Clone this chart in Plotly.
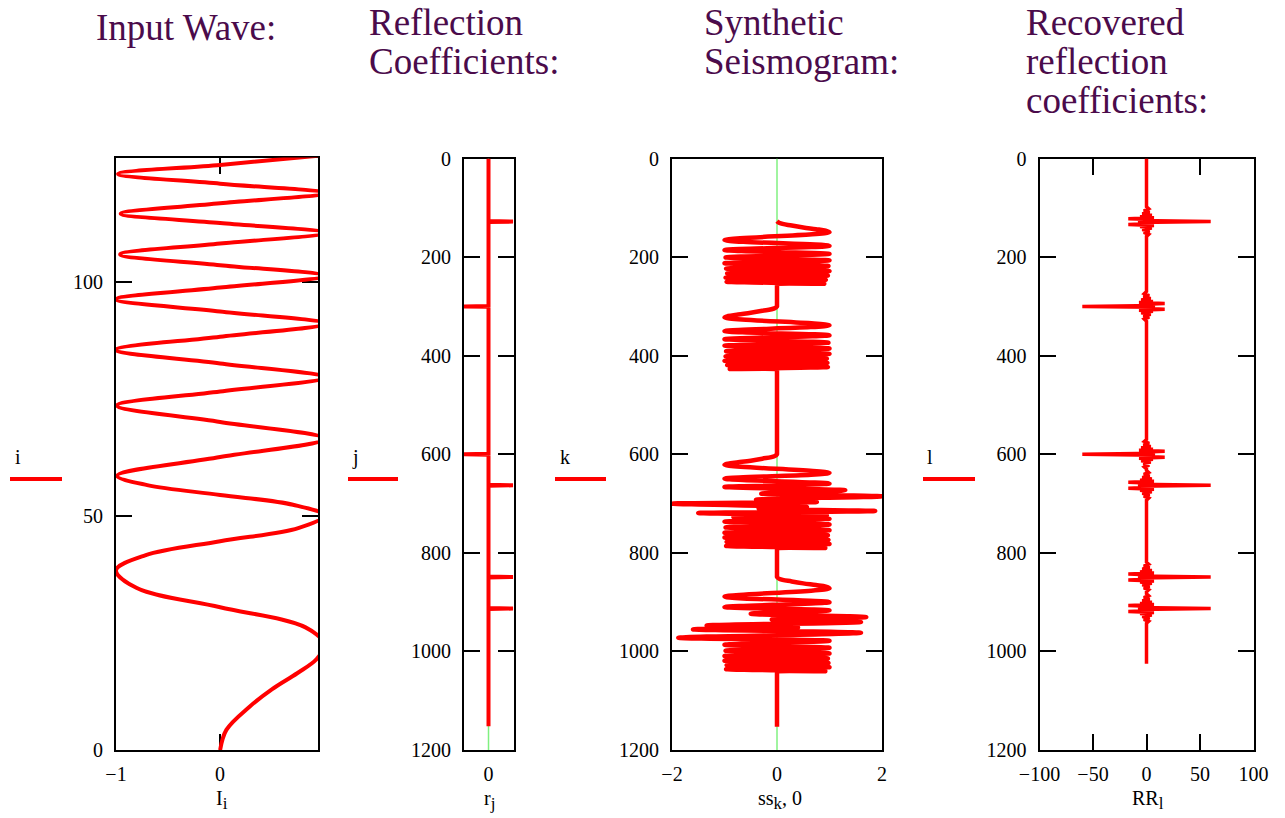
import plotly.graph_objects as go

W, H = 1285, 818

# ---------------- data ----------------
# Input wave I_i (turning points / crossings)
wave_i = [0, 4.3, 9.2, 13, 16.4, 19.5, 22.5, 26.2, 30.5, 34.6, 38.4, 41.6, 44.6, 47.4, 50.1,
          52.4, 54.5, 56.6, 58.6, 62.6, 66.5, 70.1, 73.6, 76.6, 79.6, 82.6, 85.5, 88.3, 91.1,
          93.7, 96.3, 98.8, 101.3, 103.6, 105.9, 108.2, 110.5, 112.6, 114.6, 116.8, 119.0,
          121.0, 123.1, 125.0, 127.0]
wave_I = [0, 0.06, 0.28, 0.5, 0.74, 0.93, 1.0, 0.82, 0.0, -0.8, -1.0, -0.72, 0.0, 0.75, 1.0,
          0.7, 0.0, -0.7, -0.99, 0.0, 1.0, 0.0, -0.99, 0.0, 1.0, 0.0, -1.0, 0.0, 1.0,
          0.0, -1.0, 0.0, 1.0, 0.0, -0.96, 0.0, 1.0, 0.0, -0.955, 0.0, 1.0,
          0.0, -0.98, 0.0, 0.95]

# Reflection coefficients r_j (spikes)
spike_depth = [128, 300, 600, 663, 849, 913]
spike_r = [0.1, -0.1, -0.1, 0.1, 0.1, 0.1]
r_last = 1152

# Synthetic seismogram ss_k (turning points)
ss_k = [127, 131, 136, 140, 143.4, 146.5, 149.5, 165.4, 177.1, 185.6, 193.5, 200.6, 206.6, 212.5,
        218.1, 223.3, 228.3, 232.9, 237.5, 241.6, 246, 250.1, 254, 255.5, 256.5, 299, 300,
        304, 309, 313, 316.4, 319.5, 322.5, 338.4, 350.1, 358.6, 366.5, 373.6, 379.6, 385.5,
        391.1, 396.3, 401.3, 405.9, 410.5, 414.6, 419, 423.1, 427, 428.5, 429.5, 599, 600,
        604, 609, 613, 616.4, 619, 621.5, 638, 649.4, 659.5, 666.3, 673.1, 679.9, 685.3, 692,
        696.8, 700.2, 707, 710.3, 715.1, 719.2, 723.9, 727.3, 731, 736.6, 742.6, 748.5, 754.1,
        759.3, 764.3, 768.9, 773.5, 777.6, 782, 786.1, 790, 791.5, 792.5, 848, 849,
        853, 858, 862, 865.4, 868.5, 872, 889, 900, 910, 916.8, 923.5, 930.3, 935, 940.4,
        947.2, 951.3, 955.3, 962.1, 972.3, 978.5, 986.6, 992.6, 998.5, 1004.1, 1009.3, 1014.3,
        1018.9, 1023.5, 1027.6, 1032, 1036.1, 1040, 1041.5, 1042.5, 1152, 1153]
ss_v = [0, 0.05, 0.28, 0.5, 0.74, 0.93, 1.0, -1.0, 1.0, -1.0, 1.0, -0.98, 1.0, -1.0,
        0.98, -0.97, 1.0, -0.95, 0.97, -0.98, 0.93, -0.96, 0.9, 0, 0, 0, 0,
        -0.05, -0.28, -0.5, -0.74, -0.93, -1.0, 1.0, -1.0, 1.0, -1.0, 0.98, -1.0, 1.0,
        -0.97, 1.0, -0.98, 0.95, -1.0, 0.96, -0.95, 0.97, -0.9, 0, 0, 0, 0,
        -0.05, -0.28, -0.5, -0.74, -0.93, -1.0, 1.0, -1.0, 1.0, -1.0, 1.3, -0.3, 2.0, -0.4,
        0.76, -2.0, 0.57, -0.35, 1.87, -1.5, 0.95, -0.83, 1.0, -1.0, 1.0, -0.98, 1.0,
        -1.0, 0.97, -1.0, 0.98, -0.96, 1.0, -0.97, 0.92, 0, 0, 0, 0,
        0.05, 0.28, 0.5, 0.74, 0.93, 1.0, -1.0, 1.0, -1.0, 1.0, -0.5, 1.7, -0.1, 1.6,
        -1.34, 0.4, -1.6, 1.6, -1.88, 1.0, -1.0, 1.0, -0.98, 1.0, -1.0, 0.97,
        -1.0, 0.98, -0.96, 1.0, -0.97, 0.92, 0, 0, 0, 0]

# Recovered reflection coefficients RR_l: shape around each (positive) spike
lobe_off = [-30, -26, -22, -19, -16, -13, -10, -8, -6, -4, -2, 0, 2, 4, 6, 8, 10, 13, 16, 19, 22, 26, 30]
lobe_val = [0, 2, -2.5, 3, -4, 5, -6, 7, -17, 6, -8, 60, -8, 6, -17, 7, -6, 5, -4, 3, -2.5, 2, 0]
rr_last = 1025

# ---------------- build traces ----------------
r_j, r_v = [0], [0]
for s, v in zip(spike_depth, spike_r):
    r_j += [s - 1, s, s + 1]
    r_v += [0, v, 0]
r_j.append(r_last)
r_v.append(0)

rr_l, rr_v = [0], [0]
for s, v in zip(spike_depth, spike_r):
    sign = 1 if v > 0 else -1
    for o, a in zip(lobe_off, lobe_val):
        rr_l.append(s + o)
        rr_v.append(a * sign)
rr_l.append(rr_last)
rr_v.append(0)

RED = "#FF0000"
GREEN = "#80F080"
SERIF = "Liberation Serif"
PURPLE = "#4B0B4B"

fig = go.Figure()
fig.add_trace(go.Scatter(x=wave_I, y=wave_i, mode="lines", line=dict(color=RED, width=4, shape="spline", smoothing=1),
                         xaxis="x", yaxis="y", showlegend=False, hoverinfo="skip"))
fig.add_trace(go.Scatter(x=[0, 0], y=[0, 1200], mode="lines", line=dict(color=GREEN, width=1.5),
                         xaxis="x2", yaxis="y2", showlegend=False, hoverinfo="skip"))
fig.add_trace(go.Scatter(x=r_v, y=r_j, mode="lines", line=dict(color=RED, width=4),
                         xaxis="x2", yaxis="y2", showlegend=False, hoverinfo="skip"))
fig.add_trace(go.Scatter(x=[0, 0], y=[0, 1200], mode="lines", line=dict(color=GREEN, width=1.5),
                         xaxis="x3", yaxis="y3", showlegend=False, hoverinfo="skip"))
fig.add_trace(go.Scatter(x=ss_v, y=ss_k, mode="lines", line=dict(color=RED, width=4.5, shape="spline", smoothing=1),
                         xaxis="x3", yaxis="y3", showlegend=False, hoverinfo="skip"))
fig.add_trace(go.Scatter(x=rr_v, y=rr_l, mode="lines", line=dict(color=RED, width=3.5),
                         xaxis="x4", yaxis="y4", showlegend=False, hoverinfo="skip"))


def dx(a, b):
    return [a / W, b / W]


def dy(top, bottom):
    return [1 - bottom / H, 1 - top / H]


common = dict(showline=True, linewidth=2, linecolor="black", mirror="allticks", ticks="inside",
              ticklen=16, tickwidth=2, tickcolor="black", showgrid=False, zeroline=False,
              tickfont=dict(family=SERIF, size=20, color="black"), fixedrange=True, automargin=False,
              layer="below traces")

depth_ticks = [0, 200, 400, 600, 800, 1000, 1200]

fig.update_layout(
    width=W, height=H, margin=dict(l=0, r=0, t=0, b=0, pad=0),
    paper_bgcolor="white", plot_bgcolor="white", showlegend=False,
    xaxis=dict(common, domain=dx(116, 318), range=[-1, 0.94], tickvals=[-1, 0], ticktext=["\u22121", "0"],
               anchor="y", ticklabelstandoff=5),
    yaxis=dict(common, domain=dy(157.5, 750), range=[0, 126.6], tickvals=[0, 50, 100],
               anchor="x", ticklabelstandoff=7),
    xaxis2=dict(common, domain=dx(464, 514), range=[-0.1, 0.104], tickvals=[0], ticktext=["0"], ticklen=0,
                anchor="y2", ticklabelstandoff=5),
    yaxis2=dict(common, domain=dy(158.5, 750), range=[1200, 0], tickvals=depth_ticks,
                anchor="x2", ticklabelstandoff=7),
    xaxis3=dict(common, domain=dx(672, 882), range=[-2, 2], tickvals=[-2, 0, 2],
                ticktext=["\u22122", "0", "2"], ticklen=0, anchor="y3", ticklabelstandoff=5),
    yaxis3=dict(common, domain=dy(158.5, 750), range=[1200, 0], tickvals=depth_ticks,
                anchor="x3", ticklabelstandoff=7),
    xaxis4=dict(common, domain=dx(1039.5, 1253.5), range=[-100, 100], tickvals=[-100, -50, 0, 50, 100],
                ticktext=["\u2212100", "\u221250", "0", "50", "100"], anchor="y4", ticklabelstandoff=5),
    yaxis4=dict(common, domain=dy(158.5, 750), range=[1200, 0], tickvals=depth_ticks,
                anchor="x4", ticklabelstandoff=7),
)

# Titles
titles = [
    (94, 27, "Input Wave:"),
    (367, 23, "Reflection"), (367, 62, "Coefficients:"),
    (702, 23, "Synthetic"), (702, 62, "Seismogram:"),
    (1024, 23, "Recovered"), (1024, 62, "reflection"), (1024, 100, "coefficients:"),
]
for x, y, t in titles:
    fig.add_annotation(x=x / W, y=1 - y / H, xref="paper", yref="paper", text=t, showarrow=False,
                       xanchor="left", yanchor="middle", font=dict(family=SERIF, size=37, color=PURPLE))

# axis variable labels under each plot
SUB = "<sub><span style='font-size:17px'>{}</span></sub>"
xlabels = [(222, "I" + SUB.format("i")), (490, "r" + SUB.format("j")),
           (780, "ss" + SUB.format("k") + ", 0"), (1148, "RR" + SUB.format("l"))]
for x, t in xlabels:
    fig.add_annotation(x=x / W, y=1 - 800 / H, xref="paper", yref="paper", text=t, showarrow=False,
                       xanchor="center", yanchor="middle", font=dict(family=SERIF, size=20, color="black"))

# trace keys at the left of each plot
keys = [(18, 10, 62, "i"), (355, 348, 398, "j"), (565, 555, 606, "k"), (930, 923, 975, "l")]
for tx, x0, x1, t in keys:
    fig.add_annotation(x=tx / W, y=1 - 457 / H, xref="paper", yref="paper", text=t, showarrow=False,
                       xanchor="center", yanchor="middle", font=dict(family=SERIF, size=20, color="black"))
    fig.add_shape(type="line", xref="paper", yref="paper", x0=x0 / W, x1=x1 / W,
                  y0=1 - 479 / H, y1=1 - 479 / H, line=dict(color=RED, width=4))

fig.write_html("out.html", config={"displayModeBar": False},
               post_script="document.body.style.margin='0px';document.body.style.overflow='hidden';")
